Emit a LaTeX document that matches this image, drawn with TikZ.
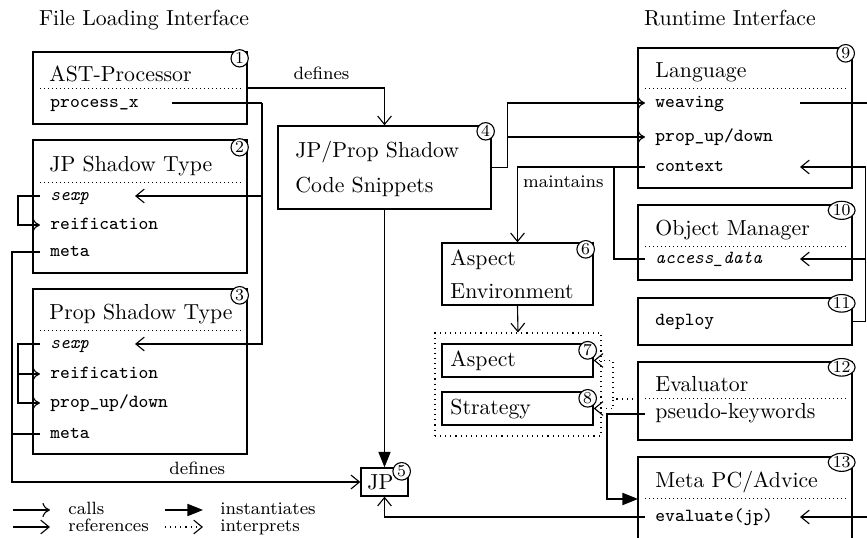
\documentclass[tikz,border=0pt]{standalone}
\usetikzlibrary{arrows.meta,calc,fit,shapes.geometric}
\begin{document}
\begin{tikzpicture}[x=0.45pt,y=-0.45pt,
  every node/.style={inner sep=0pt},
  rm/.style={font=\fontsize{9.8}{11.5}\selectfont},
  tt/.style={font=\fontsize{8.3}{10}\selectfont\ttfamily},
  itt/.style={font=\fontsize{8.3}{10}\selectfont\ttfamily\itshape},
  lab/.style={font=\fontsize{8}{10}\selectfont},
  box/.style={draw, line width=0.6pt, inner sep=0pt},
  grpbox/.style={draw, line width=0.5pt, dash pattern=on 0.5pt off 1.8pt, inner sep=0pt},
  ttl/.style={rm, anchor=mid west},
  btxt/.style={rm, anchor=base west},
  item/.style={anchor=mid west, inner xsep=4.5pt, inner ysep=0pt},
  sepline/.style={line width=0.45pt, dash pattern=on 0.45pt off 1.35pt},
  num/.style={draw, fill=white, circle, line width=0.5pt, inner sep=0.5pt, minimum size=7.6pt, font=\fontsize{7.5}{8}\selectfont},
  numw/.style={draw, fill=white, ellipse, line width=0.5pt, inner sep=0.3pt, minimum height=7.4pt, minimum width=10.5pt, font=\fontsize{7.5}{8}\selectfont},
  con/.style={line width=0.5pt},
  call/.style={con, -{Computer Modern Rightarrow[length=3.4pt,width=6.4pt]}},
  ref/.style={con, -{Straight Barb[length=3.8pt,width=6.2pt]}},
  inst/.style={con, -{Triangle[length=7pt,width=5.5pt]}},
  interp/.style={con, dash pattern=on 0.5pt off 1.8pt, -{Straight Barb[length=3.8pt,width=6.2pt]}},
]
\useasboundingbox (0,0) rectangle (867,538);
\clip (0,0) rectangle (867,538);

% headers
\node[rm, anchor=base] (h1) at (144,26) {File Loading Interface};
\node[rm, anchor=base] (h2) at (730,26) {Runtime Interface};

% boxes
\node[box, fit={(33,52)(247,124)}] (b1) {};
\node[box, fit={(33,140)(247,273)}] (b2) {};
\node[box, fit={(33,289)(247,454)}] (b3) {};
\node[box, fit={(278,126)(491,209)}] (b4) {};
\node[box, fit={(361,468)(408,496)}] (b5) {};
\node[box, fit={(442,243)(593,305)}] (b6) {};
\node[grpbox, fit={(435,333)(601,436)}] (grp) {};
\node[box, fit={(442,344)(593,377)}] (b7) {};
\node[box, fit={(442,392)(593,425)}] (b8) {};
\node[box, fit={(638,48)(852,188)}] (b9) {};
\node[box, fit={(638,205)(852,280)}] (b10) {};
\node[box, fit={(638,298)(852,345)}] (b11) {};
\node[box, fit={(638,362)(852,440)}] (b12) {};
\node[box, fit={(638,457)(852,600)}] (b13) {};

% titles
\node[ttl] (t1) at (49,77) {AST-Processor};
\node[ttl] (t2) at (49,167) {JP Shadow Type};
\node[ttl] (t3) at (49,315) {Prop Shadow Type};
\node[btxt] (t4a) at (295,158) {JP/Prop Shadow};
\node[btxt] (t4b) at (295,193) {Code Snippets};
\node[btxt] (t5) at (367,490) {JP};
\node[btxt] (t6a) at (450,266) {Aspect};
\node[btxt] (t6b) at (450,299) {Environment};
\node[btxt] (t7) at (450,367) {Aspect};
\node[btxt] (t8) at (450,415) {Strategy};
\node[ttl] (t9) at (655,73) {Language};
\node[ttl] (t10) at (655,231) {Object Manager};
\node[ttl] (t12) at (655,387) {Evaluator};
\node[ttl] (t13) at (655,483) {Meta PC/Advice};

% separators
\draw[sepline] (40,89) -- (242,89);
\draw[sepline] (40,183) -- (242,183);
\draw[sepline] (40,331) -- (242,331);
\draw[sepline] (645,89) -- (847,89);
\draw[sepline] (645,247) -- (847,247);
\draw[sepline] (645,399) -- (847,399);
\draw[sepline] (645,499) -- (847,499);

% items
\node[item, tt] (px1) at (40,103) {process\_x};
\node[item, itt] (sexp2) at (40,196) {sexp};
\node[item, tt] (reif2) at (40,225) {reification};
\node[item, tt] (meta2) at (40,252) {meta};
\node[item, itt] (sexp3) at (40,344) {sexp};
\node[item, tt] (reif3) at (40,374) {reification};
\node[item, tt] (prop3) at (40,403) {prop\_up/down};
\node[item, tt] (meta3) at (40,434) {meta};
\node[item, tt] (weave9) at (645,103) {weaving};
\node[item, tt] (prop9) at (645,137) {prop\_up/down};
\node[item, tt] (ctx9) at (645,167) {context};
\node[item, itt] (acc10) at (645,259) {access\_data};
\node[item, tt] (dep11) at (645,321) {deploy};
\node[item, rm] (pk12) at (645,414) {pseudo-keywords};
\node[item, tt] (ev13) at (645,517) {evaluate(jp)};

% port coordinates
\coordinate (e1) at (172,0);
\coordinate (e2) at (135,0);
\coordinate (e9) at (800,0);

% connectors
\draw[ref] (b1.east) -| node[lab, pos=0.27, above=3.5pt] {defines} (b4.north);
\coordinate (j1) at ($(px1.mid -| e1)+(90,0)$);
\draw[con] (px1.mid -| e1) -- (j1);
\draw[ref] (j1) |- (sexp2.mid -| e2);
\draw[ref] (j1) |- (sexp3.mid -| e2);

\draw[call] (sexp2.mid west) -- ++(-22,0) |- (reif2.mid west);
\draw[call] (sexp3.mid west) -- ++(-22,0) |- (reif3.mid west);
\draw[call] (sexp3.mid west) -- ++(-22,0) |- (prop3.mid west);

\draw[ref] (meta2.mid west) -- ++(-28,0) |- node[lab, pos=0.766, above=3pt] {defines} (b5.west);
\draw[con] (meta3.mid west) -- ++(-28,0);

\draw[call] (b4.east) -- ++(16,0) |- (weave9.mid west);
\draw[call] (b4.east) -- ++(16,0) |- (prop9.mid west);

\draw[ref] (ctx9.mid west) -| node[lab, pos=0.5, anchor=north west, xshift=2.3pt, yshift=-3.5pt] {maintains} (b6.north);
\draw[con] (acc10.mid west) -- ++(-31,0) |- (ctx9.mid west);

\coordinate (wout) at ($(weave9.mid -| e9)+(80,0)$);
\draw[con] (weave9.mid -| e9) -- (wout);

\draw[ref] (b11.east) -- ++(13,0) |- (ctx9.mid -| e9);
\draw[ref] (b11.east) -- ++(13,0) |- (acc10.mid -| e9);

\coordinate (ev12) at (638,399);
\draw[interp] (ev12) -- ++(-25,0) |- (b7.east);
\draw[interp] (ev12) -- ++(-25,0) |- (b8.east);

\coordinate (m13) at (638,499);
\draw[inst] (pk12.mid west) -- ++(-38,0) |- (m13);

\draw[inst] (b4.south) -- (b5.north);
\draw[ref] (ev13.mid west) -| (b5.south);
\coordinate (eout) at ($(ev13.mid -| e9)+(80,0)$);
\draw[ref] (eout) -- (ev13.mid -| e9);

\draw[ref] (b6.south) -- (grp.north);

% numbers (drawn last so they sit on top)
\node[num] (n1) at ([shift={(-8,7)}]b1.north east) {1};
\node[num] (n2) at ([shift={(-8,8)}]b2.north east) {2};
\node[num] (n3) at ([shift={(-8,7)}]b3.north east) {3};
\node[num] (n4) at ([shift={(-6,6)}]b4.north east) {4};
\node[num] (n5) at ([shift={(-7,4)}]b5.north east) {5};
\node[num] (n6) at ([shift={(-8,7)}]b6.north east) {6};
\node[num] (n7) at ([shift={(-6,7)}]b7.north east) {7};
\node[num] (n8) at ([shift={(-6,7)}]b8.north east) {8};
\node[num] (n9) at ([shift={(-7,6)}]b9.north east) {9};
\node[numw] (n10) at ([shift={(-11,6)}]b10.north east) {10};
\node[numw] (n11) at ([shift={(-11,6)}]b11.north east) {11};
\node[numw] (n12) at ([shift={(-11,6)}]b12.north east) {12};
\node[numw] (n13) at ([shift={(-11,6)}]b13.north east) {13};

% legend
\node[lab, anchor=mid west] (lg1) at (68,510) {calls};
\node[lab, anchor=mid west] (lg2) at (68,527) {references};
\node[lab, anchor=mid west] (lg3) at (220,510) {instantiates};
\node[lab, anchor=mid west] (lg4) at (220,527) {interprets};
\coordinate (la1) at (13,510); \coordinate (la2) at (50,510);
\coordinate (lb1) at (13,527); \coordinate (lb2) at (50,527);
\coordinate (lc1) at (165,510); \coordinate (lc2) at (203,510);
\coordinate (ld1) at (165,527); \coordinate (ld2) at (203,527);
\draw[call] (la1) -- (la2);
\draw[ref] (lb1) -- (lb2);
\draw[inst] (lc1) -- (lc2);
\draw[interp] (ld1) -- (ld2);
\end{tikzpicture}
\end{document}
